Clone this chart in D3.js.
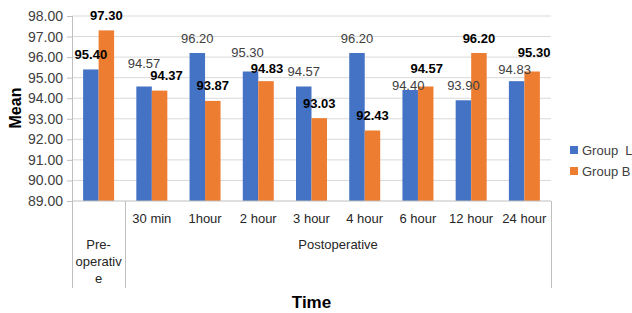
<!DOCTYPE html>
<html><head><meta charset="utf-8">
<script src="https://cdn.jsdelivr.net/npm/d3@7"></script>
<style>body{margin:0;background:#fff}svg{display:block;font-family:"Liberation Sans",Arial,sans-serif}</style>
</head><body><svg id="c" width="632" height="313"></svg>
<script>
const categories = ["Pre-operative","30 min","1hour","2 hour","3 hour","4 hour","6 hour","12 hour","24 hour"];
const groupL = [95.40,94.57,96.20,95.30,94.57,96.20,94.40,93.90,94.83];
const groupB = [97.30,94.37,93.87,94.83,93.03,92.43,94.57,96.20,95.30];
const seriesNames = ["Group  L","Group B"];
const yTicks = [89,90,91,92,93,94,95,96,97,98];
const boldL = [true,false,false,false,false,false,false,false,false];
const boldB = [true,true,true,true,true,true,true,true,true];

const colors = ["#4472C4","#ED7D31"];
const svg = d3.select("#c");
const L = 72, R = 551, T = 16, B = 201, catBottom = 288;

const x0 = d3.scaleBand().domain(categories).range([L, R]);
const bw = x0.bandwidth();
const x1 = d3.scaleBand().domain([0,1]).range([(bw-31)/2, (bw+31)/2]);
const y = d3.scaleLinear().domain([89,98]).range([B, T]);

// gridlines
svg.append("g").selectAll("line").data(yTicks.slice(1)).join("line")
  .attr("x1", L).attr("x2", R).attr("y1", d=>y(d)).attr("y2", d=>y(d))
  .attr("stroke", "#d9d9d9").attr("stroke-width", 1);

// y axis
const yAxis = d3.axisLeft(y).tickValues(yTicks).tickFormat(d3.format(".2f")).tickSizeOuter(0).tickSize(5).tickPadding(4);
const gy = svg.append("g").attr("transform", `translate(${L},0)`).call(yAxis);
gy.select(".domain").remove();
gy.selectAll(".tick line").attr("stroke", "#bfbfbf");
gy.selectAll(".tick text").attr("font-size", 14).attr("fill", "#404040").attr("font-family", '"Liberation Sans",Arial,sans-serif');

// bars
const series = [groupL, groupB];
const gBars = svg.append("g");
series.forEach((vals, s) => {
  gBars.selectAll(null).data(vals).join("rect")
    .attr("x", (d,i)=>x0(categories[i]) + x1(s))
    .attr("width", x1.bandwidth())
    .attr("y", d=>y(d))
    .attr("height", d=>B - y(d))
    .attr("fill", colors[s]);
});

// axis lines
svg.append("line").attr("x1", L).attr("x2", R).attr("y1", B).attr("y2", B).attr("stroke", "#bfbfbf");
svg.append("line").attr("x1", L+0.5).attr("x2", L+0.5).attr("y1", T).attr("y2", catBottom).attr("stroke", "#bfbfbf");
svg.append("line").attr("x1", R+0.5).attr("x2", R+0.5).attr("y1", B).attr("y2", catBottom).attr("stroke", "#bfbfbf");
const sepX = Math.round(x0(categories[1])) + 0.5;
svg.append("line").attr("x1", sepX).attr("x2", sepX).attr("y1", B).attr("y2", catBottom).attr("stroke", "#bfbfbf");

// category labels
const catG = svg.append("g").attr("font-size", 13).attr("fill", "#262626").attr("text-anchor", "middle");
categories.slice(1).forEach(c => {
  catG.append("text").attr("x", x0(c) + bw/2).attr("y", 218).attr("dy", "0.35em").text(c);
});
const preLines = ["Pre-","operativ","e"];
preLines.forEach((t,i) => {
  catG.append("text").attr("x", x0(categories[0]) + bw/2).attr("y", 244 + i*17).attr("dy","0.35em").text(t);
});
catG.append("text").attr("x", (x0(categories[1]) + R)/2).attr("y", 244).attr("dy","0.35em").text("Postoperative");

// data labels
const adj = {"0-1": {dx:0, dy:-8}, "1-1": {dx:7, dy:0}, "0-6": {dx:-2, dy:10}, "1-6": {dx:1, dy:-3},
             "0-3": {dx:-3, dy:-4}, "1-3": {dx:1, dy:2}, "0-8": {dx:-2, dy:3}, "1-8": {dx:2, dy:-4}};
const bolds = [boldL, boldB];
const lg = svg.append("g").attr("font-size", 13).attr("text-anchor", "middle");
series.forEach((vals, s) => {
  vals.forEach((v, i) => {
    const a = adj[s+"-"+i] || {dx:0, dy:0};
    lg.append("text")
      .attr("x", x0(categories[i]) + x1(s) + x1.bandwidth()/2 + a.dx)
      .attr("y", y(v) - 15 + a.dy)
      .attr("dy", "0.35em")
      .attr("font-weight", bolds[s][i] ? "bold" : "normal")
      .attr("fill", bolds[s][i] ? "#000" : "#404040")
      .text(d3.format(".2f")(v));
  });
});

// axis titles
svg.append("text").attr("x", (L+R)/2).attr("y", 302).attr("dy","0.35em").attr("text-anchor","middle")
  .attr("font-size", 17).attr("font-weight","bold").attr("fill","#000").text("Time");
svg.append("text").attr("transform", "translate(15,108) rotate(-90)").attr("dy","0.35em").attr("text-anchor","middle")
  .attr("font-size", 16).attr("font-weight","bold").attr("fill","#000").text("Mean");

// legend
const leg = svg.append("g");
seriesNames.forEach((n, s) => {
  const yy = 150 + s*21;
  leg.append("rect").attr("x", 570).attr("y", yy-4).attr("width", 8).attr("height", 8).attr("fill", colors[s]);
  leg.append("text").attr("x", 582).attr("y", yy).attr("dy","0.35em").attr("font-size", 13).attr("fill","#404040")
    .attr("xml:space","preserve").style("white-space","pre").text(n);
});
</script></body></html>
